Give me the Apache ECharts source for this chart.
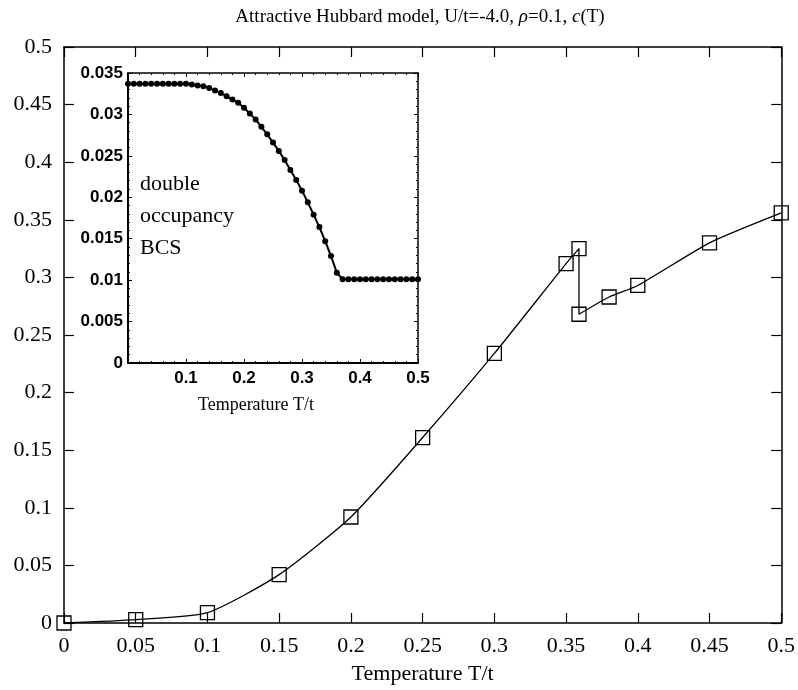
<!DOCTYPE html>
<html>
<head>
<meta charset="utf-8">
<script src="https://cdn.jsdelivr.net/npm/echarts@6/dist/echarts.min.js"></script>
<style>html,body{margin:0;padding:0;background:#fff}#c{width:798px;height:690px}</style>
</head>
<body>
<div id="c"></div>
<script>
// Main chart: c(T)
const mainT = [0, 0.05, 0.1, 0.15, 0.2, 0.25, 0.3, 0.35, 0.359, 0.359, 0.38, 0.4, 0.45, 0.5];
const mainC = [0, 0.003, 0.009, 0.042, 0.092, 0.161, 0.234, 0.312, 0.325, 0.268, 0.283, 0.293, 0.330, 0.356];
const mainTicks = [0, 0.05, 0.1, 0.15, 0.2, 0.25, 0.3, 0.35, 0.4, 0.45, 0.5];

// Inset: double occupancy BCS
const insetT = [0.00,0.01,0.02,0.03,0.04,0.05,0.06,0.07,0.08,0.09,0.10,0.11,0.12,0.13,0.14,0.15,0.16,0.17,0.18,0.19,0.20,0.21,0.22,0.23,0.24,0.25,0.26,0.27,0.28,0.29,0.30,0.31,0.32,0.33,0.34,0.35,0.36,0.37,0.38,0.39,0.40,0.41,0.42,0.43,0.44,0.45,0.46,0.47,0.48,0.49,0.50];
const insetD = [0.0337,0.0337,0.0337,0.0337,0.0337,0.0337,0.0337,0.0337,0.0337,0.0337,0.0337,0.0336,0.0335,0.0334,0.0332,0.0329,0.0326,0.0322,0.0318,0.0314,0.0308,0.0301,0.0294,0.0285,0.0276,0.0266,0.0256,0.0245,0.0233,0.0221,0.0208,0.0194,0.0179,0.0164,0.0147,0.0129,0.0109,0.0101,0.0101,0.0101,0.0101,0.0101,0.0101,0.0101,0.0101,0.0101,0.0101,0.0101,0.0101,0.0101,0.0101];
const insetYTicks = [0, 0.005, 0.01, 0.015, 0.02, 0.025, 0.03, 0.035];

const serif = '"Liberation Serif", "Times New Roman", serif';
const sans = '"Liberation Sans", Arial, sans-serif';

const chart = echarts.init(document.getElementById('c'), null, {renderer: 'canvas'});

function axisBase(extra) {
  return Object.assign({
    type: 'value',
    axisLine: {show: true, onZero: false, lineStyle: {color: '#000', width: 1.5}},
    splitLine: {show: false},
  }, extra);
}

const mainTickStyle = {show: true, inside: true, length: 10, lineStyle: {color: '#000', width: 1.2}};
const mainLabel = {fontFamily: serif, fontSize: 22, color: '#000'};
const insetTickStyle = {show: true, inside: true, length: 4, lineStyle: {color: '#000', width: 1}};
const insetMinor = {show: true, splitNumber: 5, length: 2, lineStyle: {color: '#000', width: 1}};

const option = {
  backgroundColor: '#fff',
  animation: false,
  grid: [
    {left: 64, right: 16, top: 47, bottom: 62, show: false},
    {left: 128, top: 73, width: 290, height: 290, show: true, backgroundColor: '#fff', borderWidth: 0, z: 5}
  ],
  xAxis: [
    axisBase({gridIndex: 0, min: 0, max: 0.5, interval: 0.05, position: 'bottom',
      axisTick: mainTickStyle,
      axisLabel: Object.assign({margin: 12, formatter: v => String(+v.toFixed(2))}, mainLabel),
      name: 'Temperature T/t', nameLocation: 'middle', nameGap: 40,
      nameTextStyle: {fontFamily: serif, fontSize: 22, color: '#000'}}),
    axisBase({gridIndex: 0, min: 0, max: 0.5, interval: 0.05, position: 'top',
      axisTick: mainTickStyle, axisLabel: {show: false}}),
    axisBase({gridIndex: 1, min: 0, max: 0.5, interval: 0.1, position: 'bottom', z: 6,
      axisLine: {show: true, onZero: false, lineStyle: {color: '#000', width: 2}},
      axisTick: insetTickStyle, minorTick: insetMinor,
      axisLabel: {margin: 7, fontFamily: sans, fontWeight: 'bold', fontSize: 17, color: '#000',
        formatter: v => v === 0 ? '' : String(+v.toFixed(1))}}),
    axisBase({gridIndex: 1, min: 0, max: 0.5, interval: 0.1, position: 'top', z: 6,
      axisTick: insetTickStyle, minorTick: insetMinor, axisLabel: {show: false}})
  ],
  yAxis: [
    axisBase({gridIndex: 0, min: 0, max: 0.5, interval: 0.05, position: 'left',
      axisTick: mainTickStyle,
      axisLabel: Object.assign({margin: 12, formatter: v => String(+v.toFixed(2))}, mainLabel)}),
    axisBase({gridIndex: 0, min: 0, max: 0.5, interval: 0.05, position: 'right',
      axisTick: mainTickStyle, axisLabel: {show: false}}),
    axisBase({gridIndex: 1, min: 0, max: 0.035, interval: 0.005, position: 'left', z: 6,
      axisLine: {show: true, onZero: false, lineStyle: {color: '#000', width: 2}},
      axisTick: insetTickStyle, minorTick: insetMinor,
      axisLabel: {margin: 5, fontFamily: sans, fontWeight: 'bold', fontSize: 17, color: '#000',
        formatter: v => String(+v.toFixed(3))}}),
    axisBase({gridIndex: 1, min: 0, max: 0.035, interval: 0.005, position: 'right', z: 6,
      axisTick: insetTickStyle, minorTick: insetMinor, axisLabel: {show: false}})
  ],
  series: [
    {
      type: 'line', xAxisIndex: 0, yAxisIndex: 0,
      data: mainT.map((t, i) => [t, mainC[i]]),
      smooth: 0.2,
      symbol: 'rect', symbolSize: 14,
      lineStyle: {color: '#000', width: 1.3},
      itemStyle: {color: 'rgba(255,255,255,0)', borderColor: '#000', borderWidth: 1.3},
      z: 3
    },
    {
      type: 'line', xAxisIndex: 2, yAxisIndex: 2,
      data: insetT.map((t, i) => [t, insetD[i]]),
      symbol: 'circle', symbolSize: 6,
      lineStyle: {color: '#000', width: 2},
      itemStyle: {color: '#000'},
      z: 7
    }
  ],
  graphic: [
    {type: 'text', x: 420, y: 17, z: 10,
      style: {text: 'Attractive Hubbard model, U/t=-4.0, {i|ρ}=0.1, {i|c}(T)',
        align: 'center', verticalAlign: 'middle',
        fontFamily: serif, fontSize: 19, fill: '#000',
        rich: {i: {fontFamily: serif, fontSize: 19, fontStyle: 'italic', fill: '#000'}}}},
    {type: 'text', x: 140, y: 168, z: 10,
      style: {text: 'double\noccupancy\nBCS', fontFamily: serif, fontSize: 22, lineHeight: 32, fill: '#000'}},
    {type: 'text', x: 256, y: 405, z: 10,
      style: {text: 'Temperature T/t', align: 'center', verticalAlign: 'middle', fontFamily: serif, fontSize: 18, fill: '#000'}}
  ]
};
chart.setOption(option);
</script>
</body>
</html>
